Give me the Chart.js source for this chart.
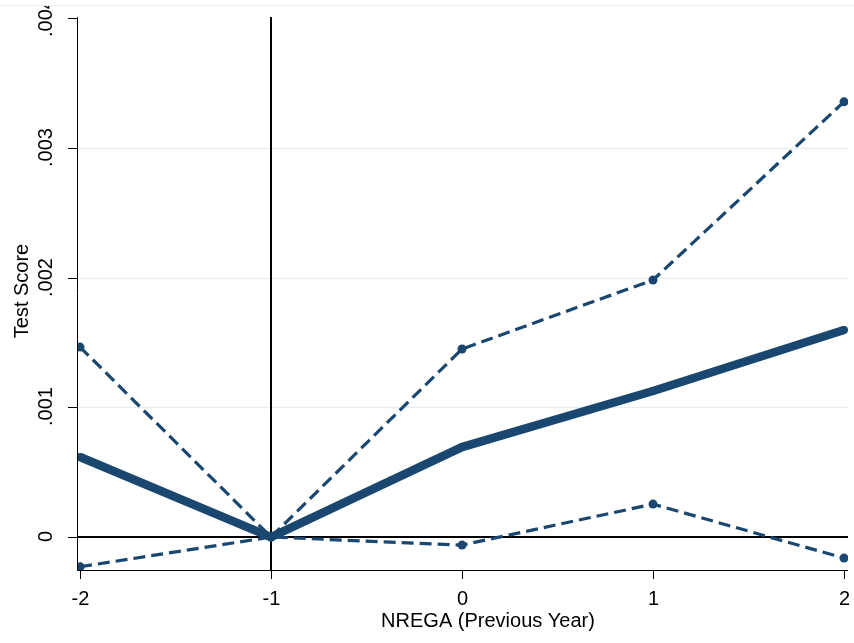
<!DOCTYPE html>
<html>
<head>
<meta charset="utf-8">
<script src="https://cdn.jsdelivr.net/npm/chart.js@4/dist/chart.umd.min.js"></script>
<style>
  body { margin: 0; background: #fff; }
  canvas { display: block; }
</style>
</head>
<body>
<canvas id="chart" width="854" height="643"></canvas>
<script>
// values
const years = [-2, -1, 0, 1, 2];
const estimate = [0.000617, 0, 0.000694, 0.001126, 0.001596];
const upperCI = [0.001465, 0, 0.00145, 0.001982, 0.003356];
const lowerCI = [-0.000229, 0, -0.000062, 0.000254, -0.000162];
const yTicks = [0, 0.001, 0.002, 0.003, 0.004];
const yTickLabels = ['0', '.001', '.002', '.003', '.004'];
const xTicks = [-2, -1, 0, 1, 2];

const navy = '#1a476f';
const font = '"Liberation Sans", Arial, sans-serif';

function toPoints(vals) {
    return years.map((x, i) => ({ x: x, y: vals[i] }));
}

// gridlines, reference lines, axes and labels drawn by hand (rotated y labels)
const stataFrame = {
    id: 'stataFrame',
    beforeDatasetsDraw(chart) {
        const ctx = chart.ctx;
        const a = chart.chartArea;
        const xs = chart.scales.x, ys = chart.scales.y;
        ctx.save();
        // faint top border
        ctx.strokeStyle = '#e6eef1';
        ctx.lineWidth = 1;
        ctx.beginPath(); ctx.moveTo(0, 5.5); ctx.lineTo(854, 5.5); ctx.stroke();
        // gridlines
        ctx.strokeStyle = '#e6eef1';
        ctx.lineWidth = 1.5;
        yTicks.slice(1, 4).forEach(v => {
            const y = Math.round(ys.getPixelForValue(v)) + 0.5;
            ctx.beginPath(); ctx.moveTo(a.left, y); ctx.lineTo(a.right, y); ctx.stroke();
        });
        // reference lines
        ctx.strokeStyle = '#000';
        ctx.lineWidth = 2;
        const y0 = Math.round(ys.getPixelForValue(0));
        ctx.beginPath(); ctx.moveTo(a.left, y0); ctx.lineTo(a.right, y0); ctx.stroke();
        const xv = Math.round(xs.getPixelForValue(-1));
        ctx.beginPath(); ctx.moveTo(xv, a.top); ctx.lineTo(xv, a.bottom); ctx.stroke();
        ctx.restore();
    },
    afterDraw(chart) {
        const ctx = chart.ctx;
        const a = chart.chartArea;
        const xs = chart.scales.x, ys = chart.scales.y;
        ctx.save();
        ctx.strokeStyle = '#000';
        ctx.lineWidth = 1;
        // axis lines
        ctx.beginPath();
        ctx.moveTo(a.left + 0.5, a.top); ctx.lineTo(a.left + 0.5, a.bottom + 0.5);
        ctx.lineTo(a.right, a.bottom + 0.5);
        ctx.stroke();
        ctx.fillStyle = '#000';
        ctx.font = '20px ' + font;
        ctx.textAlign = 'center';
        ctx.textBaseline = 'middle';
        // y ticks (top label is cut by the graph region edge)
        ctx.save();
        ctx.beginPath(); ctx.rect(0, 6, 854, 637); ctx.clip();
        yTicks.forEach((v, i) => {
            const y = Math.round(ys.getPixelForValue(v)) + 0.5;
            ctx.beginPath(); ctx.moveTo(a.left - 9, y); ctx.lineTo(a.left, y); ctx.stroke();
            ctx.save();
            ctx.translate(46, y - 1);
            ctx.rotate(-Math.PI / 2);
            ctx.fillText(yTickLabels[i], 0, 0);
            ctx.restore();
        });
        ctx.restore();
        // x ticks
        xTicks.forEach(v => {
            const x = Math.round(xs.getPixelForValue(v)) + 0.5;
            ctx.beginPath(); ctx.moveTo(x, a.bottom); ctx.lineTo(x, a.bottom + 9); ctx.stroke();
            ctx.fillText(String(v), x, a.bottom + 29);
        });
        // axis titles
        ctx.fillText('NREGA (Previous Year)', 488, 621);
        ctx.save();
        ctx.translate(22, 291);
        ctx.rotate(-Math.PI / 2);
        ctx.fillText('Test Score', 0, 0);
        ctx.restore();
        ctx.restore();
    }
};

new Chart(document.getElementById('chart'), {
    type: 'line',
    data: {
        datasets: [
            {
                label: 'upper',
                data: toPoints(upperCI),
                borderColor: navy,
                backgroundColor: navy,
                borderWidth: 3.2,
                borderDash: [12, 6],
                pointRadius: 4.5,
                pointBorderWidth: 0,
                fill: false
            },
            {
                label: 'lower',
                data: toPoints(lowerCI),
                borderColor: navy,
                backgroundColor: navy,
                borderWidth: 3.2,
                borderDash: [12, 6],
                pointRadius: 4.5,
                pointBorderWidth: 0,
                fill: false
            },
            {
                label: 'estimate',
                data: toPoints(estimate),
                borderColor: navy,
                backgroundColor: navy,
                borderWidth: 8.5,
                pointRadius: 4,
                pointBorderWidth: 0,
                fill: false
            }
        ]
    },
    options: {
        responsive: false,
        animation: false,
        layout: { padding: { left: 77, top: 17, right: 6, bottom: 73 } },
        plugins: { legend: { display: false }, tooltip: { enabled: false } },
        scales: {
            x: { type: 'linear', min: -2.016, max: 2.021, display: false },
            y: { min: -0.000254, max: 0.00401, display: false }
        }
    },
    plugins: [stataFrame]
});
</script>
</body>
</html>
